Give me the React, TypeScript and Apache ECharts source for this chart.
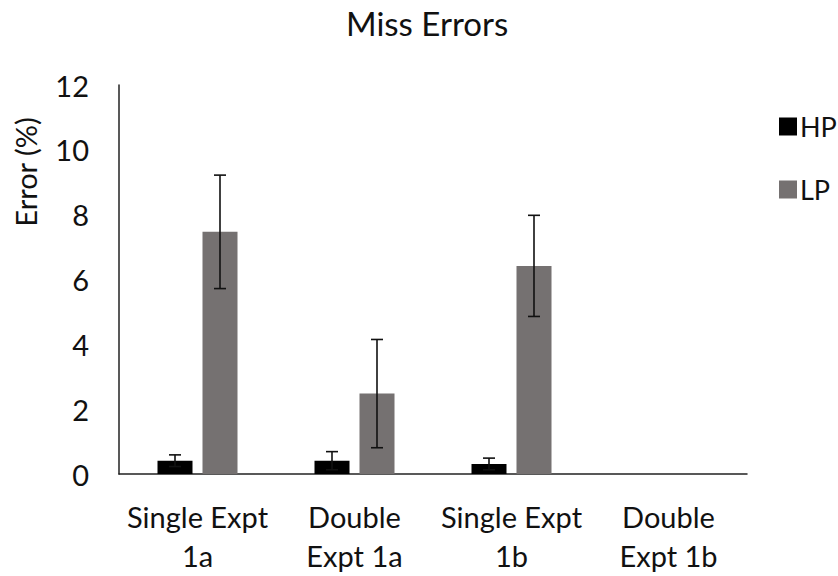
import React, { useEffect, useRef } from "react";
import * as echarts from "echarts";

const categories = ["Single Expt\n1a", "Double\nExpt 1a", "Single Expt\n1b", "Double\nExpt 1b"];
const hpValues: (number | null)[] = [0.41, 0.41, 0.31, null];
const hpErrors: (number | null)[] = [0.18, 0.28, 0.18, null];
const lpValues: (number | null)[] = [7.47, 2.48, 6.42, null];
const lpErrors: (number | null)[] = [1.75, 1.67, 1.56, null];
const yTicks = { min: 0, max: 12, interval: 2 };

const FONT = "Lato";

function errData(vals: (number | null)[], errs: (number | null)[]) {
  const out: any[] = [];
  vals.forEach((v, i) => {
    const e = errs[i];
    if (v != null && e != null) out.push([i, v - e, v + e]);
  });
  return out;
}

function makeErrRender(offset: number) {
  return (params: any, api: any) => {
    const i = api.value(0);
    const lo = api.coord([i, api.value(1)]);
    const hi = api.coord([i, api.value(2)]);
    const x = lo[0] + offset;
    const cap = 6;
    const style = { stroke: "#111", lineWidth: 1.6 };
    return {
      type: "group",
      children: [
        { type: "line", shape: { x1: x, y1: lo[1], x2: x, y2: hi[1] }, style },
        { type: "line", shape: { x1: x - cap, y1: hi[1], x2: x + cap, y2: hi[1] }, style },
        { type: "line", shape: { x1: x - cap, y1: lo[1], x2: x + cap, y2: lo[1] }, style },
      ],
    };
  };
}

export default function App() {
  const ref = useRef<HTMLDivElement>(null);
  useEffect(() => {
    if (!ref.current) return;
    const chart = echarts.init(ref.current, undefined, { renderer: "svg" });
    const barWidth = 35;
    const gap = 10;
    const off = (barWidth + gap) / 2;
    chart.setOption({
      animation: false,
      backgroundColor: "#fff",
      textStyle: { fontFamily: FONT },
      title: {
        text: "Miss Errors",
        left: 346,
        top: 6,
        padding: 0,
        textStyle: { fontFamily: FONT, fontSize: 33, fontWeight: "normal", color: "#111" },
      },
      legend: {
        orient: "vertical",
        left: 774,
        top: 108,
        itemWidth: 18,
        itemHeight: 18,
        itemGap: 36,
        data: ["HP", "LP"],
        textStyle: { fontFamily: FONT, fontSize: 27, color: "#111", padding: [0, 0, 0, -2] },
        icon: "rect",
      },
      grid: { left: 119, right: 91, top: 85, bottom: 102, containLabel: false },
      xAxis: {
        type: "category",
        data: categories,
        axisLine: { show: true, lineStyle: { color: "#222", width: 1.5 } },
        axisTick: { show: false },
        axisLabel: {
          fontFamily: FONT,
          fontSize: 29,
          color: "#111",
          lineHeight: 39,
          margin: 23,
          interval: 0,
        },
      },
      yAxis: {
        type: "value",
        min: yTicks.min,
        max: yTicks.max,
        interval: yTicks.interval,
        splitLine: { show: false },
        axisLine: { show: true, lineStyle: { color: "#222", width: 1.5 } },
        axisTick: { show: false },
        axisLabel: { fontFamily: FONT, fontSize: 29, color: "#111", margin: 30 },
      },
      graphic: [
        {
          type: "text",
          x: 25,
          y: 172,
          rotation: Math.PI / 2,
          style: {
            text: "Error (%)",
            fontFamily: FONT,
            fontSize: 29,
            fill: "#111",
            align: "center",
            verticalAlign: "middle",
          },
        },
      ],
      series: [
        {
          name: "HP",
          type: "bar",
          data: hpValues,
          barWidth,
          barGap: `${(gap / barWidth) * 100}%`,
          itemStyle: { color: "#000" },
        },
        {
          name: "LP",
          type: "bar",
          data: lpValues,
          barWidth,
          itemStyle: { color: "#757171" },
        },
        {
          name: "HP error",
          type: "custom",
          data: errData(hpValues, hpErrors),
          renderItem: makeErrRender(-off),
          encode: { x: 0, y: [1, 2] },
          z: 10,
        },
        {
          name: "LP error",
          type: "custom",
          data: errData(lpValues, lpErrors),
          renderItem: makeErrRender(off),
          encode: { x: 0, y: [1, 2] },
          z: 10,
        },
      ],
    });
    return () => chart.dispose();
  }, []);
  return (
    <div
      ref={ref}
      style={{ position: "fixed", left: 0, top: 0, width: 838, height: 576 }}
    />
  );
}
